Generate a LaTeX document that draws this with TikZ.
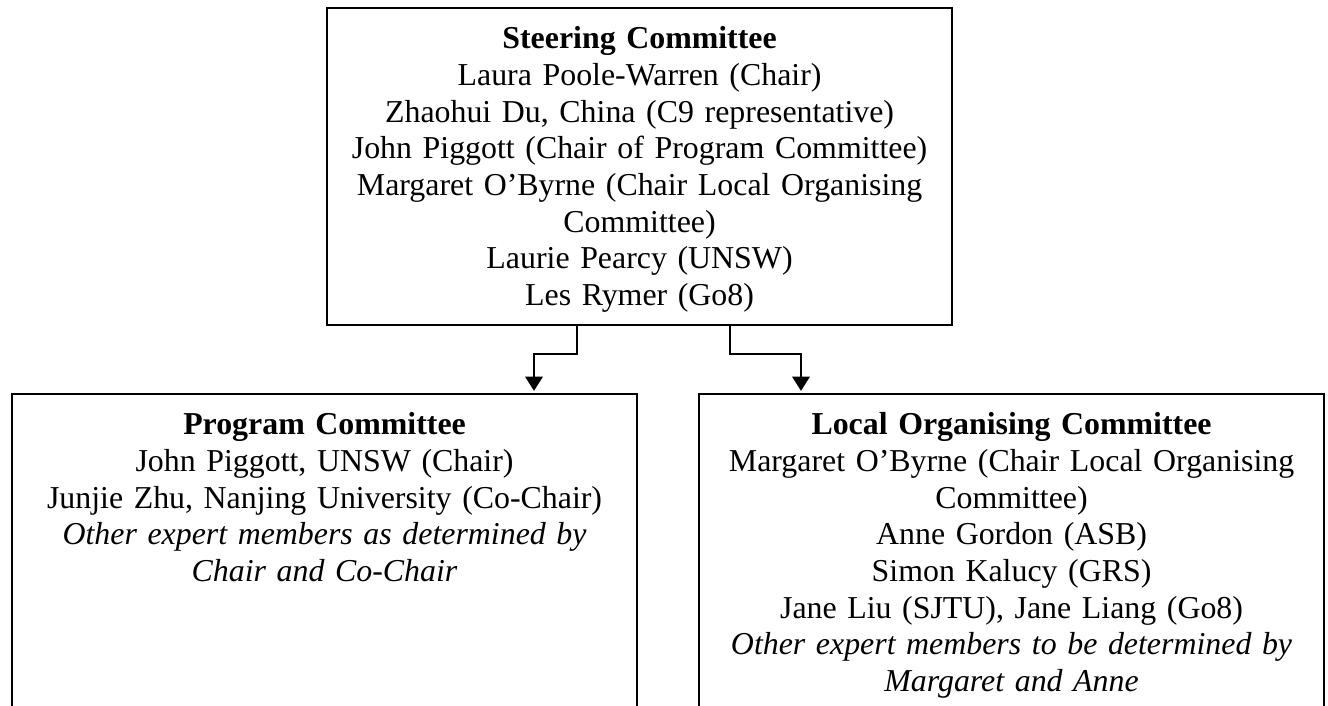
\documentclass[tikz,border=0pt]{standalone}
\usepackage{fontspec}
\setmainfont{Liberation Serif}
\usetikzlibrary{calc,arrows.meta,positioning}

\tikzset{
  box/.style={draw, line width=0.8pt, inner sep=0pt, anchor=north west},
  members/.style={align=center, inner sep=0pt, anchor=base, text width=245pt,
    font=\fontsize{12}{13.8}\selectfont},
  link/.style={line width=0.8pt, -{Triangle[width=6.6pt,length=5.4pt]}, shorten >=0.8pt}
}

\begin{document}
\begin{tikzpicture}[x=0.3765pt,y=-0.3765pt]
        \pgfmathsetmacro{\bw}{625}
        \pgfmathsetmacro{\th}{317}
        \pgfmathsetmacro{\bh}{420}
        \pgfmathsetmacro{\hd}{42}
        \useasboundingbox (0,0) rectangle (1328,706);
        \clip (0,0) rectangle (1328,706);
        \node[box, minimum width=\bw*0.3765pt, minimum height=\th*0.3765pt] (steer) at (326,7) {};
        \node[box, minimum width=\bw*0.3765pt, minimum height=\bh*0.3765pt] (prog) at (11,393) {};
        \node[box, minimum width=\bw*0.3765pt, minimum height=\bh*0.3765pt] (local) at (698,393) {};
        \node[members] (steertext) at ($ (steer.north) + (0,\hd) $) {\textbf{Steering Committee}\\
          Laura Poole-Warren (Chair)\\
          Zhaohui Du, China (C9 representative)\\
          John Piggott (Chair of Program Committee)\\
          Margaret O’Byrne (Chair Local Organising\\
          Committee)\\
          Laurie Pearcy (UNSW)\\
          Les Rymer (Go8)};
        \node[members] (progtext) at ($ (prog.north) + (0,\hd) $) {\textbf{Program Committee}\\
          John Piggott, UNSW (Chair)\\
          Junjie Zhu, Nanjing University (Co-Chair)\\
          \textit{Other expert members as determined by}\\
          \textit{Chair and Co-Chair}};
        \node[members] (localtext) at ($ (local.north) + (0,\hd) $) {\textbf{Local Organising Committee}\\
          Margaret O’Byrne (Chair Local Organising\\
          Committee)\\
          Anne Gordon (ASB)\\
          Simon Kalucy (GRS)\\
          Jane Liu (SJTU), Jane Liang (Go8)\\
          \textit{Other expert members to be determined by}\\
          \textit{Margaret and Anne}};
        \coordinate (S1) at ($ (steer.south west) + (251,0) $);
        \coordinate (S2) at ($ (steer.south west) + (404,0) $);
        \coordinate (P1) at ($ (prog.north west) + (523,0) $);
        \coordinate (L1) at ($ (local.north west) + (103,0) $);
        \draw[link] (S1) -- ++(0,28) -| (P1);
        \draw[link] (S2) -- ++(0,28) -| (L1);
    \end{tikzpicture}
\end{document}
